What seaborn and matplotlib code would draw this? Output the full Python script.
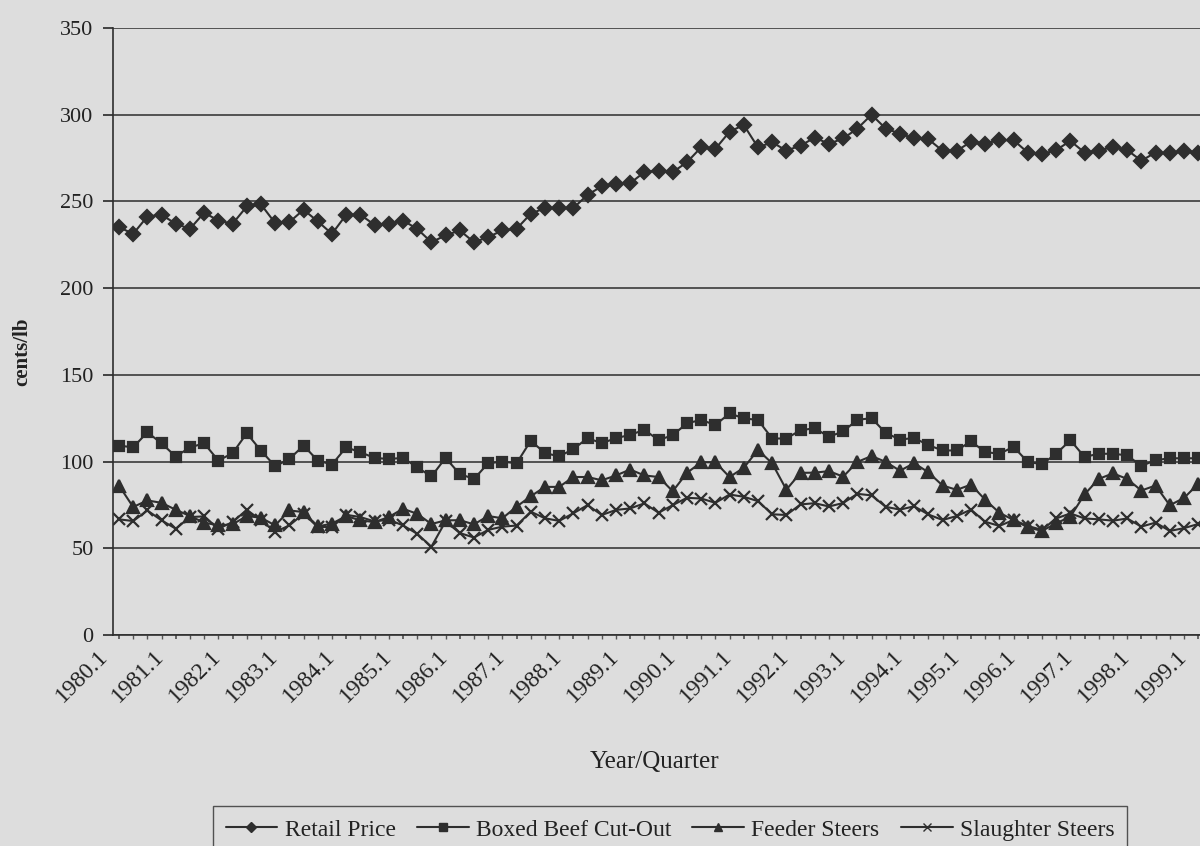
import numpy as np
import pandas as pd
import matplotlib
matplotlib.use('Agg')
import matplotlib.pyplot as plt
import matplotlib.transforms as mtransforms
import seaborn as sns
from matplotlib.lines import Line2D

# quarterly prices, cents/lb, 1980.1 - 1999.1
retail = [235.2, 231.3, 241.3, 242.3, 237.1, 234.2, 243.5, 239.0, 237.1, 247.1,
          248.3, 237.5, 238.1, 245.2, 238.5, 231.3, 242.3, 242.3, 236.5, 237.1,
          239.0, 234.2, 226.5, 230.4, 233.3, 226.5, 229.4, 233.3, 234.2, 242.9,
          246.2, 246.2, 246.2, 253.8, 258.7, 259.8, 260.5, 266.9, 267.8, 266.9,
          272.6, 281.2, 280.3, 290.2, 294.1, 281.2, 284.1, 279.3, 282.2, 286.8,
          283.2, 286.3, 292.0, 300.0, 292.0, 289.1, 286.3, 285.9, 279.2, 279.2,
          284.4, 283.4, 285.3, 285.3, 278.2, 277.3, 279.6, 284.9, 278.2, 279.2,
          281.5, 279.6, 273.5, 278.2, 277.7, 279.2, 278.2]
boxed = [109.2, 108.2, 116.9, 110.5, 102.9, 108.2, 110.5, 100.6, 104.8, 116.3,
         106.3, 97.3, 101.5, 109.2, 100.6, 98.3, 108.2, 105.4, 102.1, 101.5,
         102.1, 96.7, 91.4, 102.1, 92.8, 90.0, 99.0, 100.0, 99.0, 112.0,
         104.9, 103.0, 107.2, 113.5, 110.6, 113.5, 115.4, 118.3, 112.4, 115.2,
         122.1, 124.0, 121.1, 127.8, 124.9, 124.0, 113.3, 113.3, 118.1, 119.2,
         114.3, 117.4, 124.1, 125.0, 116.5, 112.7, 113.6, 109.5, 106.4, 106.4,
         111.7, 105.5, 104.5, 108.5, 99.8, 98.5, 104.5, 112.3, 102.7, 104.5,
         104.5, 103.6, 97.5, 100.8, 101.9, 101.9, 101.9]
feeder = [86.2, 73.8, 77.6, 76.2, 72.2, 68.6, 64.8, 63.2, 63.8, 68.6,
          67.6, 63.2, 71.8, 70.9, 62.6, 64.2, 68.6, 66.1, 65.1, 68.0,
          72.8, 69.9, 64.0, 66.1, 66.2, 63.8, 68.6, 67.3, 74.0, 80.0,
          85.4, 85.4, 91.1, 91.1, 89.2, 92.0, 95.4, 92.0, 91.1, 82.9,
          93.5, 99.6, 99.6, 91.1, 96.4, 106.7, 99.0, 83.8, 93.5, 93.6,
          94.5, 91.3, 99.8, 103.2, 99.8, 94.7, 99.1, 93.8, 86.2, 83.7,
          86.7, 78.0, 70.5, 66.3, 62.1, 60.0, 64.4, 68.2, 81.1, 90.0,
          93.2, 90.0, 83.3, 86.2, 74.8, 79.0, 87.1]
slaughter = [66.7, 65.7, 71.8, 66.1, 61.3, 68.0, 68.4, 61.3, 65.1, 72.2,
             66.1, 59.4, 63.2, 69.9, 62.3, 62.3, 69.3, 68.0, 65.5, 66.5,
             63.2, 58.4, 50.9, 65.5, 58.8, 56.2, 60.6, 62.5, 63.1, 71.1,
             67.3, 65.8, 70.2, 74.9, 69.2, 72.1, 73.0, 75.9, 70.5, 74.9,
             79.1, 78.7, 76.2, 81.0, 79.7, 77.2, 69.6, 69.2, 75.3, 76.0,
             74.1, 76.1, 81.4, 80.5, 73.9, 72.3, 74.2, 69.5, 66.3, 68.6,
             72.3, 65.3, 62.9, 66.3, 62.9, 60.6, 67.2, 70.1, 67.2, 66.7,
             65.9, 67.2, 62.5, 64.8, 60.0, 61.6, 64.0]
series_names = ['Retail Price', 'Boxed Beef Cut-Out', 'Feeder Steers', 'Slaughter Steers']
tick_labels = [f'{y}.1' for y in range(1980, 2000)]

n = len(retail)
frames = []
for name, vals in zip(series_names, [retail, boxed, feeder, slaughter]):
    frames.append(pd.DataFrame({'q': np.arange(n), 'value': vals, 'series': name}))
df = pd.concat(frames, ignore_index=True)

bg = '#dddddd'
ink = '#2e2e2e'
txt = '#222222'
sns.set_theme(style='white', rc={'figure.facecolor': bg, 'axes.facecolor': bg,
                                 'savefig.facecolor': bg})
plt.rcParams['font.family'] = ['Liberation Serif', 'DejaVu Serif']

fig = plt.figure(figsize=(12, 8.46), dpi=100)
ax = fig.add_axes([113/1200, 1-635/846, 1087/1200, 607/846])

marker_map = {'Retail Price': ('D', 7), 'Boxed Beef Cut-Out': ('s', 7),
              'Feeder Steers': ('^', 8), 'Slaughter Steers': ('x', 8)}
for name in series_names:
    m, ms = marker_map[name]
    sns.lineplot(data=df[df['series'] == name], x='q', y='value', color=ink,
                 marker=m, markersize=ms, markeredgewidth=1.6,
                 markeredgecolor=ink, linewidth=1.5, ax=ax)

ax.set_ylim(0, 350)
ax.set_xlim(-0.42, 76.13)
ax.set_yticks(range(0, 351, 50))
ax.yaxis.grid(True, color='#3a3a3a', linewidth=1.2)
ax.xaxis.grid(False)
ax.set_xticks(range(0, n, 4))
ax.set_xticks(range(n), minor=True)
ax.tick_params(axis='y', which='both', left=True, length=7, color=ink,
               labelsize=16, labelcolor=txt, pad=7)
ax.tick_params(axis='x', which='both', bottom=True, length=3, color='#555555',
               labelsize=17, labelcolor=txt, pad=5)
ax.set_xticklabels(tick_labels, rotation=45, ha='right', rotation_mode='anchor')
# nudge rotated labels left so their ends sit like the original
shift = mtransforms.ScaledTranslation(-22/100, 0, fig.dpi_scale_trans)
for lbl in ax.get_xticklabels():
    lbl.set_transform(lbl.get_transform() + shift)
for side in ['top', 'right']:
    ax.spines[side].set_visible(False)
for side in ['left', 'bottom']:
    ax.spines[side].set_color(ink)
    ax.spines[side].set_linewidth(1.2)

ax.set_xlabel('Year/Quarter', fontsize=18, color=txt)
ax.xaxis.set_label_coords((655-113)/1087, (635-762)/607)
ax.xaxis.label.set_va('center')
ax.set_ylabel('')
fig.text(22/1200, 1-352/846, 'cents/lb', rotation=90, fontsize=15,
         fontweight='bold', color=txt, ha='center', va='center')

handles = [Line2D([], [], color=ink, marker=marker_map[s][0],
                  markersize=marker_map[s][1] * 0.75, linewidth=1.5,
                  markeredgecolor=ink) for s in series_names]
leg = fig.legend(handles, series_names, loc='upper center',
                 bbox_to_anchor=(670/1200, 1-806/846), ncol=4, fontsize=17,
                 frameon=True, fancybox=False, handlelength=2.2,
                 handletextpad=0.3, columnspacing=0.9, borderpad=0.55,
                 borderaxespad=0, labelcolor=txt)
leg.get_frame().set_edgecolor(ink)
leg.get_frame().set_facecolor(bg)
leg.get_frame().set_linewidth(1.0)

fig.savefig('out.png', dpi=100, facecolor=bg)
